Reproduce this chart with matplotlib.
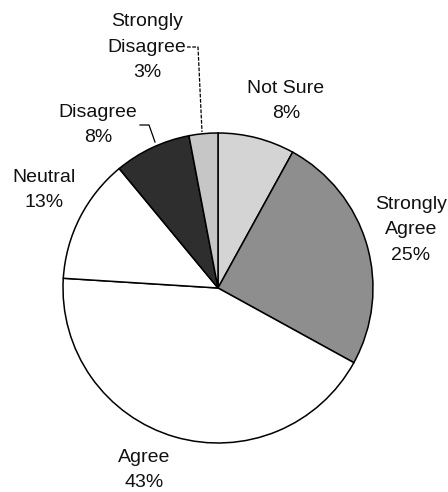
import matplotlib.pyplot as plt
import matplotlib as mpl

mpl.rcParams['font.family'] = ['Liberation Sans', 'DejaVu Sans']

# Survey responses, clockwise from 12 o'clock
labels = ["Not Sure", "Strongly\nAgree", "Agree", "Neutral", "Disagree", "Strongly\nDisagree"]
values = [8, 25, 43, 13, 8, 3]
colors = ['#d4d4d4', '#8e8e8e', '#ffffff', '#ffffff', '#2e2e2e', '#c6c6c6']

W, H = 448, 492
fig = plt.figure(figsize=(W / 100, H / 100), dpi=100)
ax = fig.add_axes([0, 0, 1, 1])

cx, cy, r = 218, H - 288, 155
wedges, _ = ax.pie(values, colors=colors, startangle=90, counterclock=False,
                   center=(cx, cy), radius=r, frame=True,
                   wedgeprops=dict(edgecolor='black', linewidth=1.1))
ax.set_xlim(0, W)
ax.set_ylim(0, H)
ax.set_aspect('equal')
ax.axis('off')

# label positions in pixel coords (x, y from top)
label_pos = [(286, 101), (411, 230), (144, 470), (44, 190), (98, 125), (147, 47)]
for lab, v, (x, y) in zip(labels, values, label_pos):
    ax.text(x, H - y, f"{lab}\n{v}%", ha='center', va='center', fontsize=14,
            linespacing=1.62, color='#111111')

# leader lines
ax.plot([187, 198, 202], [H - 47, H - 47, H - 132], color='black', lw=0.9, ls=(0, (3, 1.2)))
ax.plot([140, 149, 155], [H - 125, H - 125, H - 142], color='black', lw=0.9)

fig.savefig('out.png', dpi=100)
